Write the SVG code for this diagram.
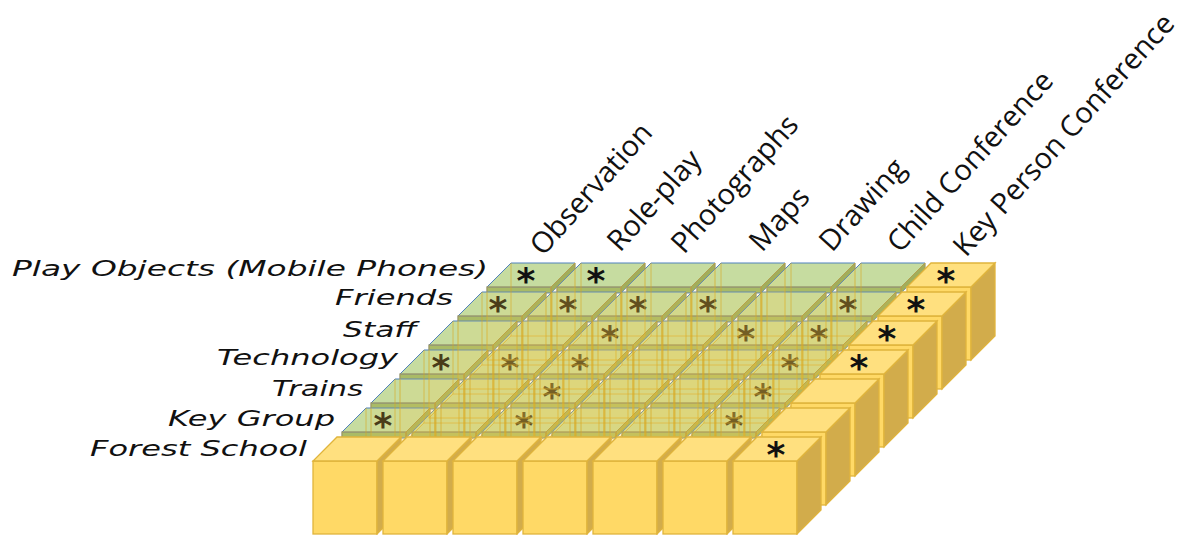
<svg xmlns="http://www.w3.org/2000/svg" xmlns:xlink="http://www.w3.org/1999/xlink" width="1190" height="535" viewBox="0 0 1190 535">
  <style>
    .rowlab { font-family: "DejaVu Sans", "Liberation Sans", sans-serif; font-style: italic; font-size: 20.5px; fill: #111; }
    .collab { font-family: "Open Sans", "Liberation Sans", sans-serif; font-size: 29px; fill: #111; }
    .star { font-family: "DejaVu Sans", "Liberation Sans", sans-serif; font-weight: bold; font-size: 36px; text-anchor: middle; }
    .star-top { fill: #111; }
    .star-in { fill: #2e2712; }
    .g-top { fill: #C6DCA0; stroke: #4F81BD; stroke-width: 1; }
    .g-front { fill: #9DB86A; stroke: #4F81BD; stroke-width: 1; }
    .g-side { fill: #93A95E; stroke: #4F81BD; stroke-width: 0.8; }
    .glass { fill: #FFD24D; fill-opacity: 0.13; stroke: #D9A820; stroke-opacity: 0.7; stroke-width: 1; }
    .glass-line { fill: none; stroke: #D9A820; stroke-opacity: 0.6; stroke-width: 1; }
    .y-front { fill: #FFD966; stroke: #E0B43C; stroke-width: 1.3; }
    .y-top { fill: #FFE07F; stroke: #E0B43C; stroke-width: 1.3; }
    .y-side { fill: #D2AC4B; stroke: #E0B43C; stroke-width: 1.3; }
  </style>
  <defs>
    <!-- thin green slab; origin = front-top-left corner of its top face -->
    <g id="tile">
      <path class="g-side" d="M64,0 L88,-24 L88,-18 L64,6 Z"/>
      <rect class="g-front" x="0" y="0" width="64" height="6"/>
      <path class="g-top" d="M0,0 L64,0 L88,-24 L24,-24 Z"/>
    </g>
    <!-- see-through block hanging under a slab -->
    <g id="glassbox">
      <rect class="glass" x="0" y="0" width="64" height="73"/>
      <path class="glass" d="M64,0 L88,-24 L88,49 L64,73 Z"/>
      <path class="glass-line" d="M24,-24 V49 H88 M0,73 L24,49"/>
    </g>
    <!-- solid gold block -->
    <g id="cube">
      <rect class="y-front" x="0" y="0" width="64" height="73"/>
      <path class="y-side" d="M64,0 L88,-24 L88,49 L64,73 Z"/>
      <path class="y-top" d="M0,0 L64,0 L88,-24 L24,-24 Z"/>
    </g>
  </defs>

  <!-- row labels -->
  <g id="row-labels">
    <text class="rowlab" x="12" y="276" textLength="476" lengthAdjust="spacingAndGlyphs">Play Objects (Mobile Phones)</text>
    <text class="rowlab" x="335" y="305" textLength="118" lengthAdjust="spacingAndGlyphs">Friends</text>
    <text class="rowlab" x="343" y="337" textLength="74" lengthAdjust="spacingAndGlyphs">Staff</text>
    <text class="rowlab" x="217" y="365" textLength="181" lengthAdjust="spacingAndGlyphs">Technology</text>
    <text class="rowlab" x="272" y="396" textLength="91" lengthAdjust="spacingAndGlyphs">Trains</text>
    <text class="rowlab" x="168" y="426" textLength="167" lengthAdjust="spacingAndGlyphs">Key Group</text>
    <text class="rowlab" x="90" y="456" textLength="217" lengthAdjust="spacingAndGlyphs">Forest School</text>
  </g>

  <!-- column labels -->
  <g id="col-labels">
    <text class="collab" transform="translate(543,257) rotate(-48)">Observation</text>
    <text class="collab" transform="translate(620,253) rotate(-48)">Role-play</text>
    <text class="collab" transform="translate(684,255) rotate(-48)">Photographs</text>
    <text class="collab" transform="translate(762,253) rotate(-48)">Maps</text>
    <text class="collab" transform="translate(832,253) rotate(-48)">Drawing</text>
    <text class="collab" transform="translate(900,254) rotate(-48)">Child Conference</text>
    <text class="collab" transform="translate(966,258) rotate(-48)">Key Person Conference</text>
  </g>

  <!-- green slabs, back row first -->
  <g id="slabs">
    <g id="cell-play-obs"><use href="#tile" x="487" y="287"/><text class="star star-top" x="526" y="293">*</text></g>
    <g id="cell-play-role"><use href="#tile" x="557" y="287"/><text class="star star-top" x="596" y="293">*</text></g>
    <g id="cell-play-photo"><use href="#tile" x="627" y="287"/></g>
    <g id="cell-play-maps"><use href="#tile" x="697" y="287"/></g>
    <g id="cell-play-draw"><use href="#tile" x="767" y="287"/></g>
    <g id="cell-play-child"><use href="#tile" x="837" y="287"/></g>

    <g id="cell-friends-obs"><use href="#tile" x="458" y="316"/><text class="star star-in" x="498" y="322">*</text></g>
    <g id="cell-friends-role"><use href="#tile" x="528" y="316"/><text class="star star-in" x="568" y="322">*</text></g>
    <g id="cell-friends-photo"><use href="#tile" x="598" y="316"/><text class="star star-in" x="638" y="322">*</text></g>
    <g id="cell-friends-maps"><use href="#tile" x="668" y="316"/><text class="star star-in" x="708" y="322">*</text></g>
    <g id="cell-friends-draw"><use href="#tile" x="738" y="316"/></g>
    <g id="cell-friends-child"><use href="#tile" x="808" y="316"/><text class="star star-in" x="848" y="322">*</text></g>

    <g id="cell-staff-obs"><use href="#tile" x="429" y="345"/></g>
    <g id="cell-staff-role"><use href="#tile" x="499" y="345"/></g>
    <g id="cell-staff-photo"><use href="#tile" x="569" y="345"/><text class="star star-in" x="610" y="351">*</text></g>
    <g id="cell-staff-maps"><use href="#tile" x="639" y="345"/></g>
    <g id="cell-staff-draw"><use href="#tile" x="709" y="345"/><text class="star star-in" x="746" y="351">*</text></g>
    <g id="cell-staff-child"><use href="#tile" x="779" y="345"/><text class="star star-in" x="819" y="351">*</text></g>

    <g id="cell-tech-obs"><use href="#tile" x="400" y="374"/><text class="star star-in" x="441" y="380">*</text></g>
    <g id="cell-tech-role"><use href="#tile" x="470" y="374"/><text class="star star-in" x="510" y="380">*</text></g>
    <g id="cell-tech-photo"><use href="#tile" x="540" y="374"/><text class="star star-in" x="580" y="380">*</text></g>
    <g id="cell-tech-maps"><use href="#tile" x="610" y="374"/></g>
    <g id="cell-tech-draw"><use href="#tile" x="680" y="374"/></g>
    <g id="cell-tech-child"><use href="#tile" x="750" y="374"/><text class="star star-in" x="790" y="380">*</text></g>

    <g id="cell-trains-obs"><use href="#tile" x="371" y="403"/></g>
    <g id="cell-trains-role"><use href="#tile" x="441" y="403"/></g>
    <g id="cell-trains-photo"><use href="#tile" x="511" y="403"/><text class="star star-in" x="552" y="409">*</text></g>
    <g id="cell-trains-maps"><use href="#tile" x="581" y="403"/></g>
    <g id="cell-trains-draw"><use href="#tile" x="651" y="403"/></g>
    <g id="cell-trains-child"><use href="#tile" x="721" y="403"/><text class="star star-in" x="763" y="409">*</text></g>

    <g id="cell-keygroup-obs"><use href="#tile" x="342" y="432"/><text class="star star-in" x="383" y="438">*</text></g>
    <g id="cell-keygroup-role"><use href="#tile" x="412" y="432"/></g>
    <g id="cell-keygroup-photo"><use href="#tile" x="482" y="432"/><text class="star star-in" x="524" y="438">*</text></g>
    <g id="cell-keygroup-maps"><use href="#tile" x="552" y="432"/></g>
    <g id="cell-keygroup-draw"><use href="#tile" x="622" y="432"/></g>
    <g id="cell-keygroup-child"><use href="#tile" x="692" y="432"/><text class="star star-in" x="734" y="438">*</text></g>
  </g>

  <!-- see-through blocks under the slabs -->
  <g id="glass-blocks">
    <use href="#glassbox" x="487" y="287"/><use href="#glassbox" x="557" y="287"/><use href="#glassbox" x="627" y="287"/>
    <use href="#glassbox" x="697" y="287"/><use href="#glassbox" x="767" y="287"/><use href="#glassbox" x="837" y="287"/>
    <use href="#glassbox" x="458" y="316"/><use href="#glassbox" x="528" y="316"/><use href="#glassbox" x="598" y="316"/>
    <use href="#glassbox" x="668" y="316"/><use href="#glassbox" x="738" y="316"/><use href="#glassbox" x="808" y="316"/>
    <use href="#glassbox" x="429" y="345"/><use href="#glassbox" x="499" y="345"/><use href="#glassbox" x="569" y="345"/>
    <use href="#glassbox" x="639" y="345"/><use href="#glassbox" x="709" y="345"/><use href="#glassbox" x="779" y="345"/>
    <use href="#glassbox" x="400" y="374"/><use href="#glassbox" x="470" y="374"/><use href="#glassbox" x="540" y="374"/>
    <use href="#glassbox" x="610" y="374"/><use href="#glassbox" x="680" y="374"/><use href="#glassbox" x="750" y="374"/>
    <use href="#glassbox" x="371" y="403"/><use href="#glassbox" x="441" y="403"/><use href="#glassbox" x="511" y="403"/>
    <use href="#glassbox" x="581" y="403"/><use href="#glassbox" x="651" y="403"/><use href="#glassbox" x="721" y="403"/>
    <use href="#glassbox" x="342" y="432"/><use href="#glassbox" x="412" y="432"/><use href="#glassbox" x="482" y="432"/>
    <use href="#glassbox" x="552" y="432"/><use href="#glassbox" x="622" y="432"/><use href="#glassbox" x="692" y="432"/>
  </g>

  <!-- Key Person Conference column, back to front -->
  <g id="keyperson-column">
    <g id="cell-play-key"><use href="#cube" x="907" y="287"/><text class="star star-top" x="946" y="293">*</text></g>
    <g id="cell-friends-key"><use href="#cube" x="878" y="316"/><text class="star star-top" x="916" y="322">*</text></g>
    <g id="cell-staff-key"><use href="#cube" x="849" y="345"/><text class="star star-top" x="887" y="351">*</text></g>
    <g id="cell-tech-key"><use href="#cube" x="820" y="374"/><text class="star star-top" x="859" y="380">*</text></g>
    <g id="cell-trains-key"><use href="#cube" x="791" y="403"/></g>
    <g id="cell-keygroup-key"><use href="#cube" x="762" y="432"/></g>
  </g>

  <!-- Forest School row, left to right -->
  <g id="forest-row">
    <g id="cell-forest-obs"><use href="#cube" x="313" y="461"/></g>
    <g id="cell-forest-role"><use href="#cube" x="383" y="461"/></g>
    <g id="cell-forest-photo"><use href="#cube" x="453" y="461"/></g>
    <g id="cell-forest-maps"><use href="#cube" x="523" y="461"/></g>
    <g id="cell-forest-draw"><use href="#cube" x="593" y="461"/></g>
    <g id="cell-forest-child"><use href="#cube" x="663" y="461"/></g>
    <g id="cell-forest-key"><use href="#cube" x="733" y="461"/><text class="star star-top" x="776" y="467">*</text></g>
  </g>
</svg>
